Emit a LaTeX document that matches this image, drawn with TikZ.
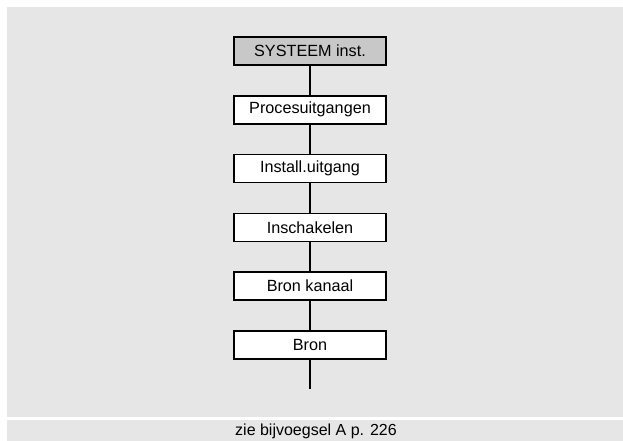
\documentclass[tikz,border=0pt]{standalone}
\usepackage{fontspec}
\setmainfont{Liberation Sans}
\usepackage{tikz}
\usetikzlibrary{positioning}
\definecolor{panelgray}{RGB}{230,230,230}
\definecolor{headgray}{RGB}{200,200,200}

\begin{document}
\begin{tikzpicture}[x=1pt,y=-1pt,
    menubox/.style={draw,line width=1.6pt,fill=white,minimum width=152pt,minimum height=28pt,inner sep=0pt,font=\fontsize{16.2}{19}\selectfont},
    link/.style={line width=1.6pt}]
                \useasboundingbox (0,0) rectangle (623,441);
                \fill[panelgray] (7,7) rectangle (623,417);
                \fill[panelgray] (7,420) rectangle (623,441);
                \node[menubox,fill=headgray] (sys) at (310,51) {SYSTEEM inst.};
                \node[menubox] (proc) at (310,109.8) {Procesuitgangen};
                \node[menubox] (inst) at (310,168.6) {Install.uitgang};
                \node[menubox] (insch) at (310,227.4) {Inschakelen};
                \node[menubox] (kanaal) at (310,286.2) {Bron kanaal};
                \node[menubox] (bron) at (310,345) {Bron};
                \coordinate (tail) at (310,389);
                \draw[link] (sys) -- (proc);
                \draw[link] (proc) -- (inst);
                \draw[link] (inst) -- (insch);
                \draw[link] (insch) -- (kanaal);
                \draw[link] (kanaal) -- (bron);
                \draw[link] (bron) -- (tail);
                \node[font=\fontsize{16}{19}\selectfont] (ref) at (316,431) {zie bijvoegsel A p. 226};
            \end{tikzpicture}
\end{document}
